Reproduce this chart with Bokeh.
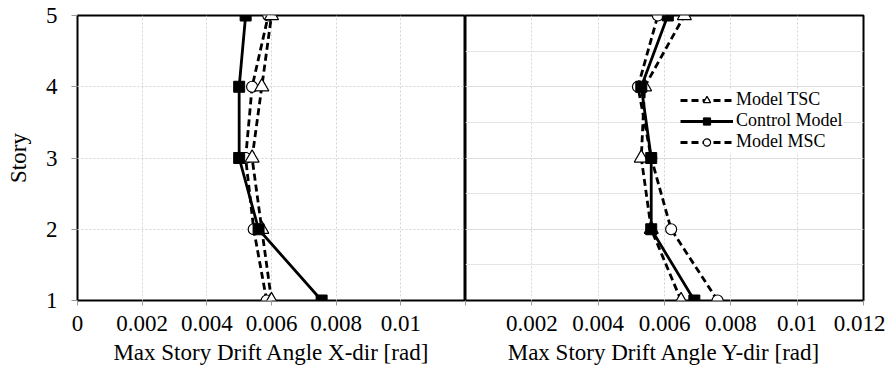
from bokeh.plotting import figure
from bokeh.layouts import row
from bokeh.models import Range1d, FixedTicker, Grid, Legend, LegendItem
from bokeh.embed import file_html
from bokeh.resources import INLINE

stories = [1, 2, 3, 4, 5]
x_tsc = [0.0060, 0.0057, 0.0054, 0.0057, 0.0060]
x_ctrl = [0.00755, 0.0056, 0.0050, 0.0050, 0.0052]
x_msc = [0.00585, 0.00545, 0.0052, 0.0054, 0.0059]
y_tsc = [0.0065, 0.0056, 0.0053, 0.0054, 0.0066]
y_ctrl = [0.0069, 0.0056, 0.0056, 0.0053, 0.0061]
y_msc = [0.0076, 0.0062, 0.0056, 0.0052, 0.0058]

x_ticks = [0, 0.002, 0.004, 0.006, 0.008, 0.010, 0.012]
left_labels = {0: "0", 0.002: "0.002", 0.004: "0.004", 0.006: "0.006", 0.008: "0.008", 0.010: "0.01", 0.012: ""}
right_labels = {0: "", 0.002: "0.002", 0.004: "0.004", 0.006: "0.006", 0.008: "0.008", 0.010: "0.01", 0.012: "0.012"}
y_ticks = [1, 2, 3, 4, 5]

FONT = "Liberation Serif"
FS = "23px"
TXT = "black"
GRID = "#d4d4d4"
H = 375


def style_x(p, labels, title):
    ax = p.xaxis[0]
    ax.ticker = FixedTicker(ticks=x_ticks)
    ax.major_label_overrides = labels
    ax.axis_label = title
    ax.axis_label_text_font = FONT
    ax.axis_label_text_font_size = FS
    ax.axis_label_text_font_style = "normal"
    ax.axis_label_text_color = TXT
    ax.axis_label_standoff = 6
    ax.major_label_text_font = FONT
    ax.major_label_text_font_size = FS
    ax.major_label_text_color = TXT
    ax.major_label_standoff = 10
    ax.major_tick_out = 5
    ax.major_tick_in = 0
    ax.minor_tick_out = 0
    ax.minor_tick_in = 0
    ax.major_tick_line_color = "#999999"
    ax.axis_line_color = None


def make_fig(width, mbl, mbr, with_y):
    p = figure(width=width, height=H, output_backend="svg", toolbar_location=None,
               x_range=Range1d(0, 0.012), y_range=Range1d(1, 5),
               min_border_left=mbl, min_border_right=mbr, min_border_top=15,
               min_border_bottom=H - 15 - 285,
               y_axis_location="left" if with_y else None)
    p.outline_line_color = "black"
    p.outline_line_width = 2
    p.background_fill_color = "white"
    p.border_fill_color = "white"
    p.xgrid.ticker = FixedTicker(ticks=x_ticks)
    p.xgrid.grid_line_color = GRID
    p.xgrid.grid_line_dash = "2 2"
    if with_y:
        ay = p.yaxis[0]
        ay.ticker = FixedTicker(ticks=y_ticks)
        ay.axis_label = "Story"
        ay.axis_label_text_font = FONT
        ay.axis_label_text_font_size = FS
        ay.axis_label_text_font_style = "normal"
        ay.axis_label_text_color = TXT
        ay.axis_label_standoff = 12
        ay.major_label_text_font = FONT
        ay.major_label_text_font_size = FS
        ay.major_label_text_color = TXT
        ay.major_label_standoff = 14
        ay.major_tick_out = 6
        ay.major_tick_in = 0
        ay.minor_tick_out = 0
        ay.minor_tick_in = 0
        ay.major_tick_line_color = "#999999"
        ay.axis_line_color = None
        p.ygrid.ticker = FixedTicker(ticks=y_ticks)
        p.ygrid.grid_line_color = GRID
        p.ygrid.grid_line_dash = "2 2"
    else:
        g = Grid(dimension=1, ticker=FixedTicker(ticks=y_ticks), grid_line_color=GRID, grid_line_dash="2 2")
        p.add_layout(g)
    return p


def draw(p, xm, xt, xc):
    rm_l = p.line(xm, stories, line_color="black", line_width=2.8, line_dash="7 4")
    rm_m = p.scatter(xm, stories, marker="circle", size=11, fill_color="white", line_color="black", line_width=1.2)
    rt_l = p.line(xt, stories, line_color="black", line_width=2.8, line_dash="7 4")
    rt_m = p.scatter(xt, stories, marker="triangle", size=14, fill_color="white", line_color="black", line_width=1.2)
    rc_l = p.line(xc, stories, line_color="black", line_width=2.8)
    rc_m = p.scatter(xc, stories, marker="square", size=11, fill_color="black", line_color="black")
    return [rt_l, rt_m], [rc_l, rc_m], [rm_l, rm_m]


p1 = make_fig(465, 77, 0, True)
style_x(p1, left_labels, "Max Story Drift Angle X-dir [rad]")
draw(p1, x_msc, x_tsc, x_ctrl)

p2 = make_fig(420, 0, 22, False)
style_x(p2, right_labels, "Max Story Drift Angle Y-dir [rad]")
t, c, m = draw(p2, y_msc, y_tsc, y_ctrl)

legend = Legend(items=[LegendItem(label="Model TSC", renderers=t),
                       LegendItem(label="Control Model", renderers=c),
                       LegendItem(label="Model MSC", renderers=m)],
                location=(215, 148), orientation="vertical",
                label_text_font=FONT, label_text_font_size="18px", label_text_color=TXT,
                glyph_width=53, glyph_height=18, label_height=18, label_standoff=3,
                spacing=0, padding=2, margin=0,
                border_line_color=None, background_fill_color="white", background_fill_alpha=1)
p2.add_layout(legend)

layout = row(p1, p2)
open("out.html", "w").write(file_html(layout, INLINE))
